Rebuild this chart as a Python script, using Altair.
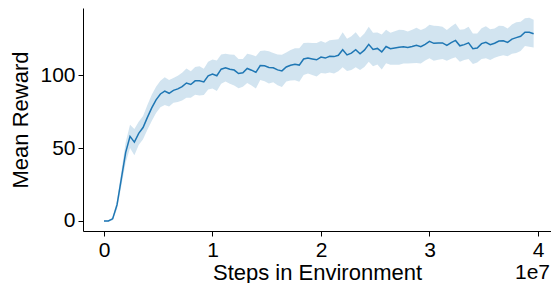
import altair as alt
import pandas as pd

# x grid: one evaluation every 400k environment steps
step_size = 400000
mean_reward = [
    0, 0, 1.5, 11, 29, 47, 58, 54, 60, 64,
    71, 77.5, 83, 87, 89, 87.5, 89.5, 90.5, 92, 94.5,
    93.5, 96, 96, 95.3, 99.5, 100.7, 99.5, 104, 105, 104,
    103.4, 101, 101.5, 104.5, 103.3, 101.8, 106.5, 106.3, 105.2, 105,
    103.5, 102.8, 105.5, 106.7, 107.4, 106.8, 111, 111.6, 111, 110.4,
    112.3, 111.6, 112.8, 112.6, 113.5, 117.3, 113.8, 115, 117.3, 114.5,
    117, 121, 117.5, 118.2, 115.8, 119.5, 118, 118.5, 119, 119.4,
    118.8, 119.5, 120.3, 119.4, 121, 123, 121.7, 122, 122, 120.3,
    122.2, 123.7, 120, 120.8, 122, 118, 118.5, 121.5, 122.4, 120.8,
    121.8, 123.3, 123.5, 122.3, 124.6, 125.6, 126.5, 129.3, 129.3, 128.3,
]
band_halfwidth = [
    0.5, 0.5, 1, 3, 5, 7, 8, 9, 8, 8,
    8.5, 9, 9, 9, 9.5, 9, 8.5, 9, 9.5, 10,
    9, 9.5, 10, 9, 9.5, 10, 10.5, 10, 9.5, 10,
    10.5, 10, 9.5, 10, 10.5, 11, 10, 10.5, 11, 10,
    10.5, 11, 10, 10.5, 11, 11.5, 11, 10.5, 11, 11.5,
    11, 10.5, 11, 11.5, 11, 12, 11, 11.5, 12, 11,
    11.5, 12, 11.5, 11, 12, 11.5, 11, 11.5, 12, 11.5,
    11, 11.5, 12, 11.5, 11, 11.5, 12, 11.5, 11, 10.5,
    11, 11.5, 11, 10.5, 11, 10.5, 10, 10.5, 11, 10.5,
    10, 10.5, 10, 9.5, 10, 10.5, 10, 9.5, 10, 9.5,
]
x_ticks = [0, 10000000, 20000000, 30000000, 40000000]
y_ticks = [0, 50, 100]

df = pd.DataFrame({
    "step": [i * step_size for i in range(len(mean_reward))],
    "mean": mean_reward,
    "lower": [m - h for m, h in zip(mean_reward, band_halfwidth)],
    "upper": [m + h for m, h in zip(mean_reward, band_halfwidth)],
})

FONT = "Liberation Sans"
BLUE = "#1f77b4"

x_scale = alt.Scale(domain=[-1935000, 41200000], nice=False, zero=False)
y_scale = alt.Scale(domain=[-6.85, 145.9], nice=False, zero=False)

x_axis = alt.Axis(
    values=x_ticks, labelExpr="format(datum.value / 10000000, 'd')",
    title="Steps in Environment", grid=False, titleY=48, titleBaseline="alphabetic",
)
y_axis = alt.Axis(values=y_ticks, title="Mean Reward", grid=False,
                  titleX=-56, titleBaseline="alphabetic")

base = alt.Chart(df)

band = base.mark_area(color=BLUE, opacity=0.2).encode(
    x=alt.X("step:Q", scale=x_scale, axis=x_axis),
    y=alt.Y("lower:Q", scale=y_scale, axis=y_axis),
    y2="upper:Q",
)
line = base.mark_line(color=BLUE, strokeWidth=1.5).encode(
    x=alt.X("step:Q", scale=x_scale),
    y=alt.Y("mean:Q", scale=y_scale),
)
offset_text = alt.Chart(pd.DataFrame({"t": ["1e7"]})).mark_text(
    font=FONT, fontSize=21, align="right", baseline="alphabetic", color="black"
).encode(text="t:N", x=alt.value(467), y=alt.value(271))

chart = alt.layer(band, line, offset_text).properties(
    width=468, height=223,
    autosize=alt.AutoSizeParams(type="none"),
    padding={"left": 75, "top": 0, "right": 0, "bottom": 52},
).configure_view(stroke=None).configure_axis(
    domainColor="black", tickColor="black", labelColor="black", titleColor="black",
    labelFont=FONT, titleFont=FONT, labelFontSize=21, titleFontSize=22,
    titleFontWeight="normal", tickSize=5, labelPadding=3, domainWidth=1, tickWidth=1,
)

chart.save("out.html", embed_options={"renderer": "svg", "actions": False})
